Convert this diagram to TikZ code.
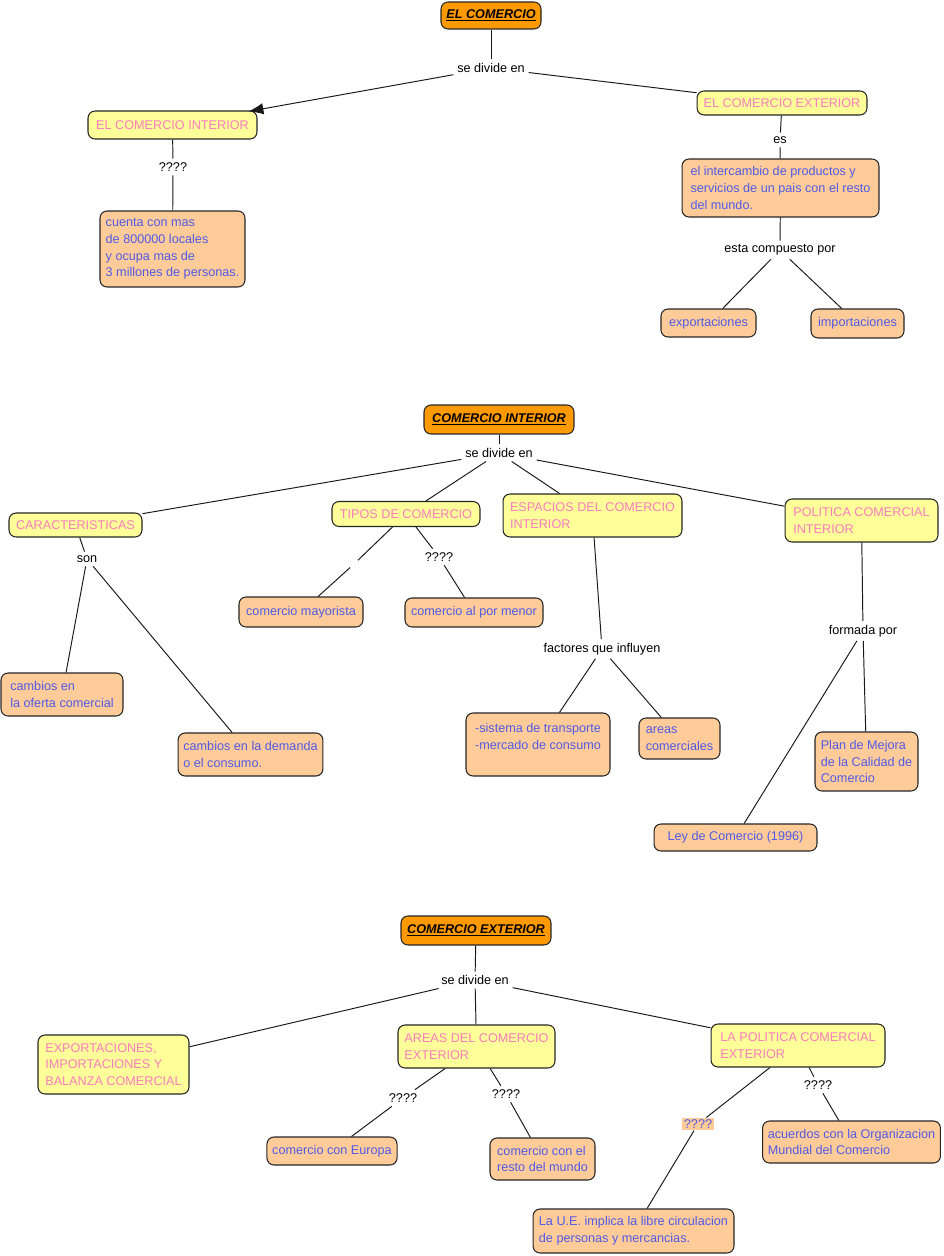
\documentclass[tikz,border=0pt]{standalone}
\usepackage{fontspec}
\setmainfont{Liberation Sans}
\usetikzlibrary{arrows.meta}

\definecolor{headorange}{RGB}{255,153,0}
\definecolor{topicyellow}{RGB}{255,255,153}
\definecolor{infopeach}{RGB}{255,204,153}
\definecolor{topicpink}{RGB}{250,125,190}
\definecolor{infoblue}{RGB}{80,90,230}

\tikzset{
  conbox/.style={draw=black!85, line width=0.6pt, rounded corners=4pt,
    inner xsep=3pt, inner ysep=0pt, align=left, font=\fontsize{7.2}{9.5}\selectfont},
  headbox/.style={conbox, fill=headorange, align=center,
    font=\fontsize{7.2}{9.5}\selectfont\bfseries\itshape},
  topicbox/.style={conbox, fill=topicyellow, text=topicpink},
  infobox/.style={conbox, fill=infopeach, text=infoblue},
  linklabel/.style={font=\fontsize{7.2}{9.5}\selectfont, inner sep=2pt},
  maplink/.style={line width=0.55pt, black!90}
}

\begin{document}
\begin{tikzpicture}[x=0.02cm, y=-0.02cm, >={Latex[length=8.5pt,width=6.5pt]}]
\useasboundingbox (0,0) rectangle (943,1256);

% el comercio
\node[headbox, minimum width=2cm, minimum height=0.54cm] (comercio) at (491,15.5) {\underline{EL COMERCIO}};
\node[linklabel] (divide1) at (491,68) {se divide en};
\node[topicbox, minimum width=3.38cm, minimum height=0.56cm] (interior1) at (172.5,125) {EL COMERCIO INTERIOR};
\node[topicbox, minimum width=3.4cm, minimum height=0.48cm] (exterior1) at (782,103) {EL COMERCIO EXTERIOR};
\node[linklabel] (q1) at (173,167) {????};
\node[infobox, minimum width=2.9cm, minimum height=1.52cm] (locales) at (172.5,249) {cuenta con mas\\de 800000 locales\\y ocupa mas de\\3 millones de personas.};
\node[linklabel] (es) at (780,140) {es};
\node[infobox, minimum width=3.94cm, minimum height=1.16cm] (intercambio) at (780.5,188) {el intercambio de productos y\\servicios de un pais con el resto\\del mundo.};
\node[linklabel] (compuesto) at (780,250) {esta compuesto por};
\node[infobox, minimum width=1.9cm, minimum height=0.56cm] (export1) at (708.5,323) {exportaciones};
\node[infobox, minimum width=1.86cm, minimum height=0.58cm] (import1) at (857.5,323.5) {importaciones};

\draw[maplink] (comercio) -- (divide1);
\draw[maplink, ->, shorten >=-3pt] (divide1) -- (interior1);
\draw[maplink] (divide1) -- (exterior1);
\draw[maplink] (interior1) -- (q1);
\draw[maplink] (q1) -- (locales);
\draw[maplink] (exterior1) -- (es);
\draw[maplink] (es) -- (intercambio);
\draw[maplink] (intercambio) -- (compuesto);
\draw[maplink] (compuesto) -- (export1);
\draw[maplink] (compuesto) -- (import1);

% comercio interior
\node[headbox, minimum width=3cm, minimum height=0.58cm] (interior2) at (499,419.5) {\underline{COMERCIO INTERIOR}};
\node[linklabel] (divide2) at (499,453) {se divide en};
\node[topicbox, minimum width=2.66cm, minimum height=0.48cm] (caract) at (75.5,525) {CARACTERISTICAS};
\node[topicbox, minimum width=2.96cm, minimum height=0.5cm] (tipos) at (406,514) {TIPOS DE COMERCIO};
\node[topicbox, minimum width=3.58cm, minimum height=0.86cm] (espacios) at (592.5,515.5) {ESPACIOS DEL COMERCIO\\INTERIOR};
\node[topicbox, minimum width=3.06cm, minimum height=0.86cm] (politica) at (861.5,520.5) {POLITICA COMERCIAL\\INTERIOR};
\node[linklabel] (son) at (87,559) {son};
\node[linklabel] (blank) at (354,564) {};
\node[linklabel] (q2) at (439,557) {????};
\node[infobox, minimum width=2.48cm, minimum height=0.6cm] (mayorista) at (301,612) {comercio mayorista};
\node[infobox, minimum width=2.76cm, minimum height=0.58cm] (pormenor) at (474,612.5) {comercio al por menor};
\node[infobox, minimum width=2.44cm, minimum height=0.86cm] (oferta) at (62,694.5) {cambios en\\la oferta comercial};
\node[infobox, minimum width=2.82cm, minimum height=0.86cm] (demanda) at (250.5,754.5) {cambios en la demanda\\o el consumo.};
\node[linklabel] (factores) at (602,649) {factores que influyen};
\node[infobox, minimum width=2.88cm, minimum height=1.26cm] (transporte) at (538,744.5) {-sistema de transporte\\-mercado de consumo\\\mbox{}};
\node[infobox, minimum width=1.62cm, minimum height=0.82cm] (areas) at (679.5,738.5) {areas\\comerciales};
\node[linklabel] (formada) at (863,631) {formada por};
\node[infobox, minimum width=2.06cm, minimum height=1.18cm] (mejora) at (866.5,761.5) {Plan de Mejora\\de la Calidad de\\Comercio};
\node[infobox, minimum width=3.26cm, minimum height=0.54cm] (ley) at (735.5,837.5) {Ley de Comercio (1996)};

\draw[maplink] (interior2) -- (divide2);
\draw[maplink] (divide2) -- (caract);
\draw[maplink] (divide2) -- (tipos);
\draw[maplink] (divide2) -- (espacios);
\draw[maplink] (divide2) -- (politica);
\draw[maplink] (caract) -- (son);
\draw[maplink] (son) -- (oferta);
\draw[maplink] (son) -- (demanda);
\draw[maplink] (tipos) -- (blank);
\draw[maplink] (blank) -- (mayorista);
\draw[maplink] (tipos) -- (q2);
\draw[maplink] (q2) -- (pormenor);
\draw[maplink] (espacios) -- (factores);
\draw[maplink] (factores) -- (transporte);
\draw[maplink] (factores) -- (areas);
\draw[maplink] (politica) -- (formada);
\draw[maplink] (formada) -- (mejora);
\draw[maplink] (formada) -- (ley);

% comercio exterior
\node[headbox, minimum width=3cm, minimum height=0.58cm] (exterior3) at (476,930.5) {\underline{COMERCIO EXTERIOR}};
\node[linklabel] (divide3) at (475,980) {se divide en};
\node[topicbox, minimum width=3.02cm, minimum height=1.18cm] (balanza) at (113.5,1064.5) {EXPORTACIONES,\\IMPORTACIONES Y\\BALANZA COMERCIAL};
\node[topicbox, minimum width=3.14cm, minimum height=0.86cm] (areasext) at (476.5,1046.5) {AREAS DEL COMERCIO\\EXTERIOR};
\node[topicbox, minimum width=3.48cm, minimum height=0.86cm] (politext) at (798,1045.5) {LA POLITICA COMERCIAL\\EXTERIOR};
\node[linklabel] (q3) at (403,1098) {????};
\node[linklabel] (q4) at (506,1094) {????};
\node[infobox, minimum width=2.6cm, minimum height=0.56cm] (europa) at (332,1151) {comercio con Europa};
\node[infobox, minimum width=2.1cm, minimum height=0.84cm] (resto) at (542.5,1159) {comercio con el\\resto del mundo};
\node[linklabel, fill=infopeach, text=infoblue, inner sep=1pt] (q5) at (698,1124) {????};
\node[linklabel] (q6) at (818,1085) {????};
\node[infobox, minimum width=4.02cm, minimum height=0.88cm] (ue) at (633.5,1231) {La U.E. implica la libre circulacion\\de personas y mercancias.};
\node[infobox, minimum width=3.54cm, minimum height=0.84cm] (omc) at (851.5,1142) {acuerdos con la Organizacion\\Mundial del Comercio};

\draw[maplink] (exterior3) -- (divide3);
\draw[maplink] (divide3) -- (balanza);
\draw[maplink] (divide3) -- (areasext);
\draw[maplink] (divide3) -- (politext);
\draw[maplink] (areasext) -- (q3);
\draw[maplink] (q3) -- (europa);
\draw[maplink] (areasext) -- (q4);
\draw[maplink] (q4) -- (resto);
\draw[maplink] (politext) -- (q5);
\draw[maplink] (q5) -- (ue);
\draw[maplink] (politext) -- (q6);
\draw[maplink] (q6) -- (omc);

\end{tikzpicture}
\end{document}
